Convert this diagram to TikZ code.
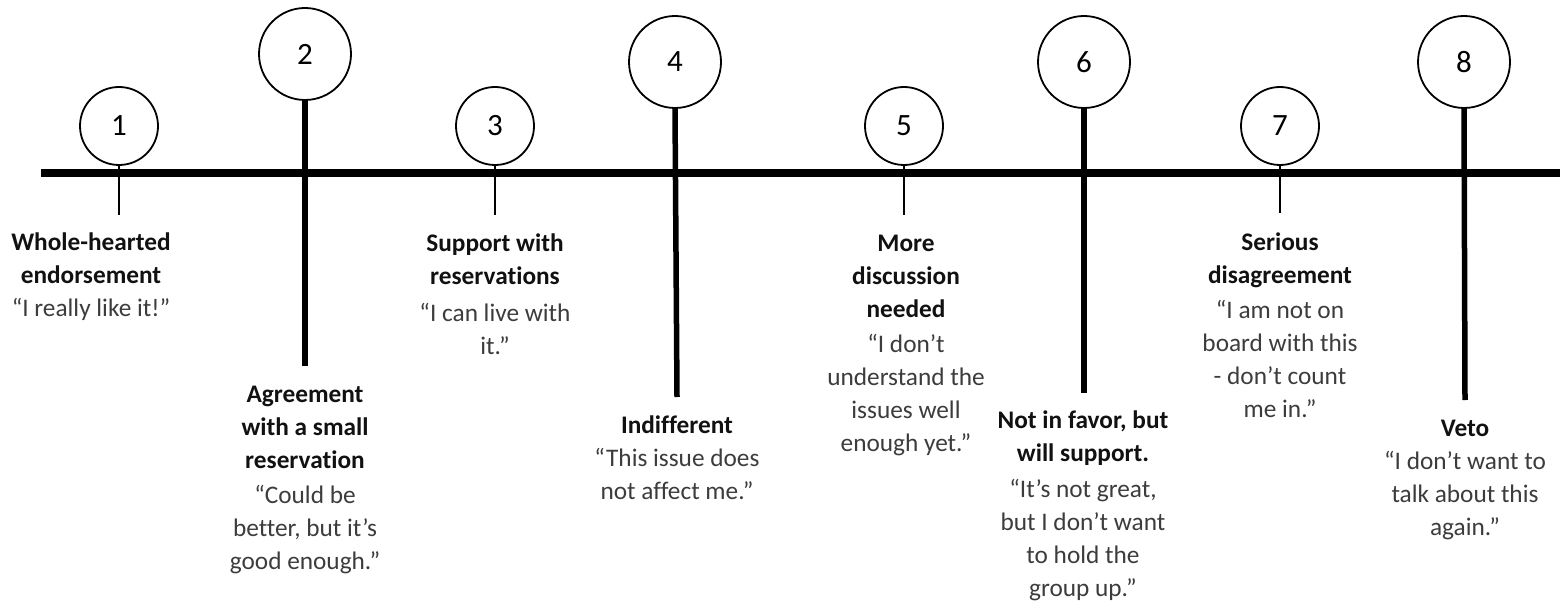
\documentclass[tikz,border=0pt]{standalone}
\usepackage{fontspec}
\setmainfont{Carlito}[Ligatures={NoCommon}]
\definecolor{quotegray}{HTML}{3C3C3C}
\definecolor{headblack}{HTML}{111111}
\begin{document}
\begin{tikzpicture}[x=1bp,y=-1bp,
  bar/.style={line width=8.5bp,black},
  thinstem/.style={line width=2.2bp,black},
  thickstem/.style={line width=5.5bp,black},
  smallcirc/.style={circle,draw=black,line width=1.8bp,fill=white,minimum size=78bp,inner sep=0pt,font=\fontsize{31bp}{34bp}\selectfont},
  bigcirc/.style={circle,draw=black,line width=1.8bp,fill=white,minimum size=92bp,inner sep=0pt,font=\fontsize{31bp}{34bp}\selectfont},
  lbl/.style={anchor=north,align=center,inner sep=0pt,font=\fontsize{25.3bp}{33bp}\selectfont,text=quotegray},
]
\useasboundingbox (0,0) rectangle (1568,602);

% axis
\coordinate (L) at (41,173);
\coordinate (R) at (1560,173);
\draw[bar] (L) -- (R);

% circles
\node[smallcirc] (c1) at (119,126) {1};
\node[bigcirc]   (c2) at (305,54)  {2};
\node[smallcirc] (c3) at (495,126) {3};
\node[bigcirc]   (c4) at (675,62)  {4};
\node[smallcirc] (c5) at (904,126) {5};
\node[bigcirc]   (c6) at (1084,62) {6};
\node[smallcirc] (c7) at (1280,126) {7};
\node[bigcirc]   (c8) at (1464,62) {8};

% stem ends
\coordinate (e1) at (119,215);
\coordinate (e2) at (305,366);
\coordinate (e3) at (495,215);
\coordinate (e4) at (677,397);
\coordinate (e5) at (904,215);
\coordinate (e6) at (1084,393);
\coordinate (e7) at (1280,213);
\coordinate (e8) at (1465,400);

\draw[thinstem] (c1.south) -- (e1);
\draw[thickstem] (c2.south) -- (e2);
\draw[thinstem] (c3.south) -- (e3);
\draw[thickstem] (c4.south) -- (e4);
\draw[thinstem] (c5.south) -- (e5);
\draw[thickstem] (c6.south) -- (e6);
\draw[thinstem] (c7.south) -- (e7);
\draw[thickstem] (c8.south) -- (e8);

% labels
\node[lbl] (t1) at (91,227) {\strut\textbf{\color{headblack}Whole-hearted}\\\textbf{\color{headblack}endorsement}\\“I really like it!”};
\node[lbl] (t2) at (305,379) {\strut\textbf{\color{headblack}Agreement}\\\textbf{\color{headblack}with a small}\\\textbf{\color{headblack}reservation}\\[2bp]“Could be\\better, but it’s\\good enough.”};
\node[lbl] (t3) at (495,228) {\strut\textbf{\color{headblack}Support with}\\\textbf{\color{headblack}reservations}\\[4bp]“I can live with\\it.”};
\node[lbl] (t4) at (677,410) {\strut\textbf{\color{headblack}Indifferent}\\“This issue does\\not affect me.”};
\node[lbl] (t5) at (906,228) {\strut\textbf{\color{headblack}More}\\\textbf{\color{headblack}discussion}\\\textbf{\color{headblack}needed}\\[2bp]“I don’t\\understand the\\issues well\\enough yet.”};
\node[lbl] (t6) at (1083,405) {\strut\textbf{\color{headblack}Not in favor, but}\\\textbf{\color{headblack}will support.}\\[3bp]“It’s not great,\\but I don’t want\\to hold the\\group up.”};
\node[lbl] (t7) at (1280,227) {\strut\textbf{\color{headblack}Serious}\\\textbf{\color{headblack}disagreement}\\[2bp]“I am not on\\board with this\\- don’t count\\me in.”};
\node[lbl] (t8) at (1465,413) {\strut\textbf{\color{headblack}Veto}\\“I don’t want to\\talk about this\\again.”};
\end{tikzpicture}
\end{document}
